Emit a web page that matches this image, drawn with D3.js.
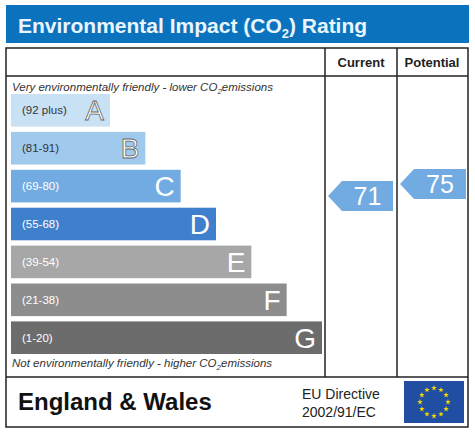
<!DOCTYPE html>
<html><head><meta charset="utf-8">
<script src="https://cdn.jsdelivr.net/npm/d3@7"></script>
<style>body{margin:0;background:#fff}text{font-family:"Liberation Sans",Arial,sans-serif}</style>
</head><body>
<script>
// rating bands, top to bottom
var bands = ["A","B","C","D","E","F","G"];
var ranges = ["(92 plus)","(81-91)","(69-80)","(55-68)","(39-54)","(21-38)","(1-20)"];
var bandColors = ["#c9e1f5","#9fcaee","#72abe2","#3f80cd","#a7a7a7","#8d8d8d","#6c6c6c"];
var currentScore = 71;
var potentialScore = 75;

var W = 475, H = 437;
var svg = d3.select("body").append("svg").attr("width", W).attr("height", H);

// title bar
svg.append("rect").attr("x",6).attr("y",5).attr("width",463).attr("height",38).attr("fill","#0b72be");
var t = svg.append("text").attr("x",18).attr("y",33).attr("fill","#eaf6ff").attr("font-size",21).attr("font-weight","bold");
t.append("tspan").text("Environmental Impact (CO");
t.append("tspan").attr("font-size",13).attr("dy",5).text("2");
t.append("tspan").attr("dy",-5).text(") Rating");

// frame
var g = svg.append("g").attr("fill","none").attr("stroke","#222").attr("stroke-width",1.5);
g.append("rect").attr("x",6).attr("y",48).attr("width",462).attr("height",379);
g.append("line").attr("x1",6).attr("x2",468).attr("y1",76).attr("y2",76);
g.append("line").attr("x1",6).attr("x2",468).attr("y1",377).attr("y2",377);
g.append("line").attr("x1",325).attr("x2",325).attr("y1",48).attr("y2",377);
g.append("line").attr("x1",397).attr("x2",397).attr("y1",48).attr("y2",377);

svg.append("text").attr("x",361).attr("y",67).attr("text-anchor","middle").attr("font-size",13).attr("font-weight","bold").attr("fill","#222").text("Current");
svg.append("text").attr("x",432).attr("y",67).attr("text-anchor","middle").attr("font-size",13).attr("font-weight","bold").attr("fill","#222").text("Potential");

function note(y, s){
  var n = svg.append("text").attr("x",12).attr("y",y).attr("font-size",11.5).attr("font-style","italic").attr("fill","#333");
  n.append("tspan").text(s[0]);
  n.append("tspan").attr("font-size",8).attr("dy",3).text("2");
  n.append("tspan").attr("dy",-3).text(s[1]);
}
note(91, ["Very environmentally friendly - lower CO","emissions"]);
note(367, ["Not environmentally friendly - higher CO","emissions"]);

// bands
var y = d3.scaleBand().domain(bands).range([94,354]).paddingInner(0.14);
var wScale = d3.scaleLinear().domain([0,6]).range([99,311]);
var rows = svg.selectAll("g.band").data(bands).join("g").attr("class","band");
rows.append("rect").attr("x",11).attr("y",d=>y(d)).attr("height",y.bandwidth())
  .attr("width",(d,i)=>wScale(i)).attr("fill",(d,i)=>bandColors[i]);
rows.append("text").attr("x",22).attr("y",d=>y(d)+y.bandwidth()/2+4).attr("font-size",11.5)
  .attr("fill",(d,i)=>i<2?"#333":"#fff").text((d,i)=>ranges[i]);
rows.append("text").attr("x",(d,i)=>11+wScale(i)-6).attr("y",d=>y(d)+y.bandwidth()/2+10)
  .attr("text-anchor","end").attr("font-size",28)
  .attr("fill","#fff").attr("stroke",(d,i)=>i<2?"#666":"none").attr("stroke-width",0.8).text(d=>d);

// score arrows
var sy = d3.scaleLinear().domain([1,100]).range([406,109]);
function arrow(x0, x1, v){
  var c = sy(v), h = 15;
  svg.append("path").attr("d","M"+x0+","+c+"L"+(x0+14)+","+(c-h)+"L"+x1+","+(c-h)+"L"+x1+","+(c+h)+"L"+(x0+14)+","+(c+h)+"Z")
    .attr("fill","#72abe2");
  svg.append("text").attr("x",(x0+x1)/2+7).attr("y",c+9).attr("text-anchor","middle").attr("font-size",25).attr("fill","#fff").text(v);
}
arrow(328, 393, currentScore);
arrow(400, 466, potentialScore);

// footer
svg.append("text").attr("x",18).attr("y",410).attr("font-size",24).attr("font-weight","bold").attr("fill","#111").text("England & Wales");
svg.append("text").attr("x",302).attr("y",399).attr("font-size",14).attr("fill","#222").text("EU Directive");
svg.append("text").attr("x",302).attr("y",417).attr("font-size",14).attr("fill","#222").text("2002/91/EC");
svg.append("rect").attr("x",404).attr("y",381).attr("width",60).attr("height",42).attr("fill","#1f4ea3");
var stars = d3.range(12);
svg.selectAll("path.star").data(stars).join("path").attr("class","star")
  .attr("d", d3.symbol(d3.symbolStar, 10))
  .attr("transform", d=>"translate("+(434+14*Math.sin(d*Math.PI/6))+","+(402-14*Math.cos(d*Math.PI/6))+")")
  .attr("fill","#f5d800");
</script>
</body></html>
